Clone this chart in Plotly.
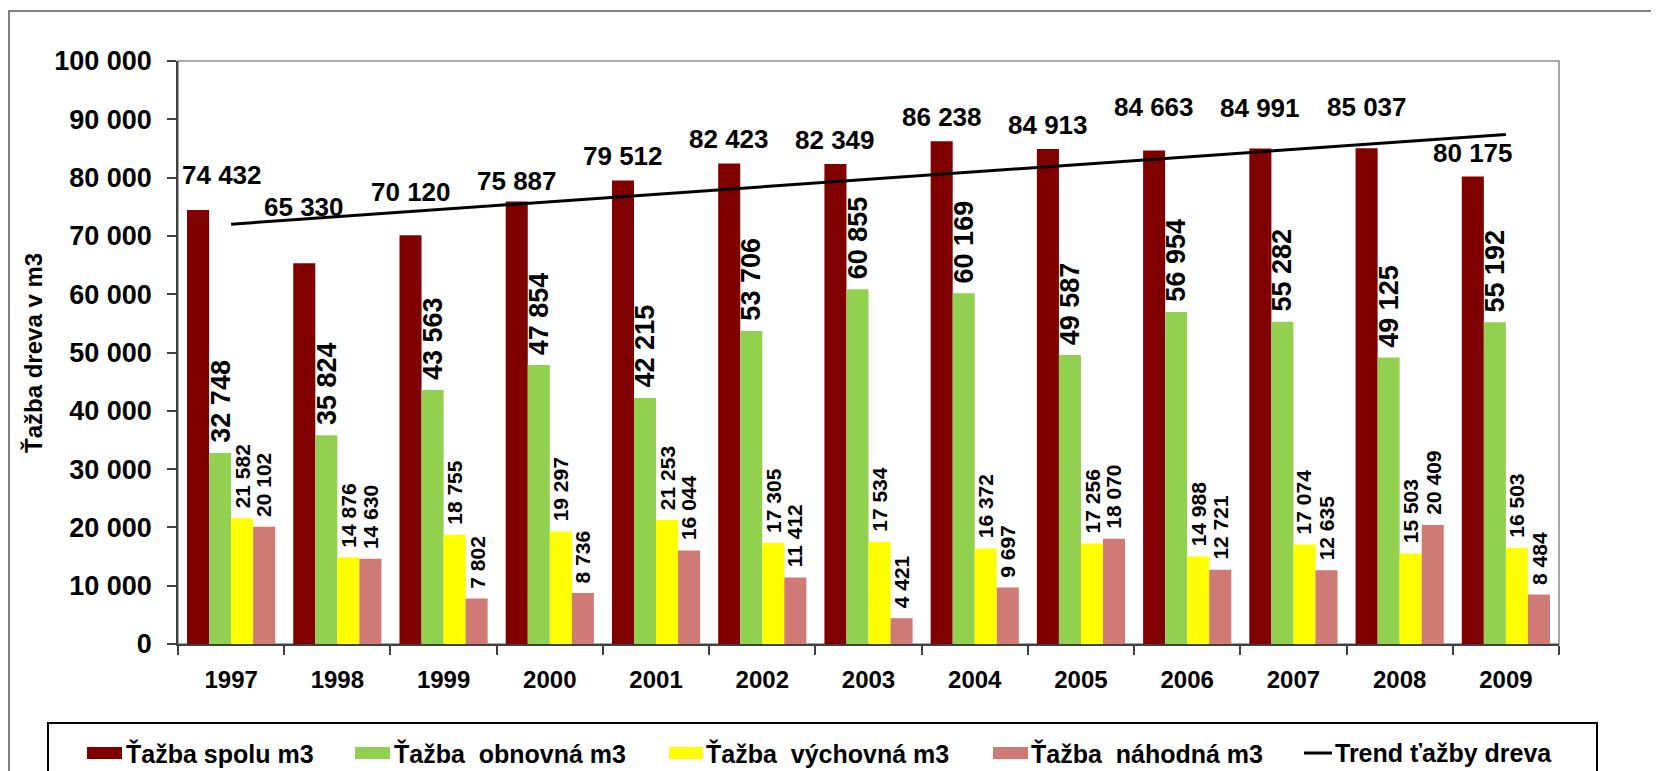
import numpy as np
import plotly.graph_objects as go

# ---- data ----
years = ["1997", "1998", "1999", "2000", "2001", "2002", "2003",
         "2004", "2005", "2006", "2007", "2008", "2009"]
spolu = [74432, 65330, 70120, 75887, 79512, 82423, 82349,
         86238, 84913, 84663, 84991, 85037, 80175]
obnovna = [32748, 35824, 43563, 47854, 42215, 53706, 60855,
           60169, 49587, 56954, 55282, 49125, 55192]
vychovna = [21582, 14876, 18755, 19297, 21253, 17305, 17534,
            16372, 17256, 14988, 17074, 15503, 16503]
nahodna = [20102, 14630, 7802, 8736, 16044, 11412, 4421,
           9697, 18070, 12721, 12635, 20409, 8484]

names = ["Ťažba spolu m3", "Ťažba  obnovná m3", "Ťažba  výchovná m3",
         "Ťažba  náhodná m3", "Trend ťažby dreva"]
y_ticks = [0, 10000, 20000, 30000, 40000, 50000, 60000, 70000, 80000, 90000, 100000]

# ---- style / layout ----
W, H = 1659, 771
OFF = 8                                   # default page (body) margin
L, R, T, B = 178, 1559, 61, 644          # plot area in page px
colors = ["#800000", "#92D050", "#FFFF00", "#D07A76"]
FONT = "Liberation Sans, Arial, sans-serif"
BARGAP = 0.17
# manual placement of the total labels (px above bar top, px shift right)
total_lift = [35, 56, 43, 21, 24, 24, 24, 24, 24, 43, 41, 41, 24]
total_dx = [24, 0, 0, 0, 0, 0, 0, 0, 0, 0, 0, 0, 0]
# legend layout (page px): swatch left, swatch right, text left
legend_items = [(87, 122, 124), (355, 390, 392), (669, 703, 704), (993, 1028, 1029), (1304, 1332, 1333)]
LEG_Y = 753


def px(x):
    return (x - L) / (R - L)


def py(y):
    return (B - y) / (B - T)


def fmt(v):
    return f"{v:,}".replace(",", " ")


def bold(size):
    return dict(family=FONT, size=size, color="black", weight="bold")


fig = go.Figure()
series = [spolu, obnovna, vychovna, nahodna]
for s, c, n in zip(series, colors, names[:4]):
    fig.add_trace(go.Bar(x=years, y=s, name=n, showlegend=False,
                         marker=dict(color=c, line=dict(width=0))))

# linear trend of total harvest (as Excel trendline)
idx = np.arange(len(years))
k, q = np.polyfit(idx, np.array(spolu, dtype=float), 1)
trend = k * idx + q
fig.add_trace(go.Scatter(x=years, y=trend, mode="lines", name=names[4], showlegend=False,
                         line=dict(color="black", width=3)))

annotations = []
w = (1 - BARGAP) / 4
offsets = [-1.5 * w, -0.5 * w, 0.5 * w, 1.5 * w]
for i, v in enumerate(spolu):
    annotations.append(dict(x=i + offsets[0], y=v, xref="x", yref="y", text=fmt(v),
                            showarrow=False, yanchor="middle", xanchor="center",
                            yshift=total_lift[i], xshift=total_dx[i], font=bold(26)))
for s, off, size in [(obnovna, offsets[1], 27), (vychovna, offsets[2], 21), (nahodna, offsets[3], 21)]:
    for i, v in enumerate(s):
        annotations.append(dict(x=i + off, y=v, xref="x", yref="y", text=fmt(v),
                                showarrow=False, textangle=-90, yanchor="bottom",
                                xanchor="center", yshift=8, font=bold(size)))

annotations.append(dict(x=px(33), y=py(353), xref="paper", yref="paper",
                        text="Ťažba dreva v m3", textangle=-90, showarrow=False,
                        xanchor="center", yanchor="middle", font=bold(24)))

shapes = [
    # outer chart border
    dict(type="rect", xref="paper", yref="paper", x0=px(OFF + 1), x1=px(1700), y0=py(11), y1=py(800),
         line=dict(color="#555555", width=1.5), layer="below"),
    # plot area border
    dict(type="rect", xref="paper", yref="paper", x0=0, x1=1, y0=0, y1=1,
         line=dict(color="#8c8c8c", width=1.5), layer="below"),
    # legend box
    dict(type="rect", xref="paper", yref="paper", x0=px(48), x1=px(1597), y0=py(723), y1=py(800),
         line=dict(color="black", width=2), layer="below"),
]

# legend (key) built from swatches and texts
for j, (name, (sx0, sx1, tx)) in enumerate(zip(names, legend_items)):
    if j < 4:
        shapes.append(dict(type="rect", xref="paper", yref="paper",
                           x0=px(sx0), x1=px(sx1), y0=py(LEG_Y + 6), y1=py(LEG_Y - 6),
                           fillcolor=colors[j], line=dict(width=0)))
    else:
        shapes.append(dict(type="line", xref="paper", yref="paper",
                           x0=px(sx0), x1=px(sx1), y0=py(LEG_Y), y1=py(LEG_Y),
                           line=dict(color="black", width=3)))
    annotations.append(dict(x=px(tx), y=py(LEG_Y), xref="paper", yref="paper", text=name,
                            showarrow=False, xanchor="left", yanchor="middle", font=bold(25)))

fig.update_layout(
    width=W - OFF, height=H - OFF,
    margin=dict(l=L - OFF, r=W - R, t=T - OFF, b=H - B, autoexpand=False),
    paper_bgcolor="white", plot_bgcolor="white",
    barmode="group", bargap=BARGAP, bargroupgap=0,
    separators=", ",
    font=dict(family=FONT, color="black"),
    showlegend=False,
    annotations=annotations,
    shapes=shapes,
)
fig.update_xaxes(type="category", showgrid=False, showline=True, linecolor="#404040", linewidth=1.5,
                 ticks="outside", tickson="boundaries", ticklen=9, tickcolor="#404040", tickwidth=1.5,
                 ticklabelstandoff=13, tickfont=bold(24))
fig.update_yaxes(range=[0, 100000], tickvals=y_ticks, tickformat=",d", showgrid=False,
                 showline=True, linecolor="#404040", linewidth=1.5, zeroline=False,
                 ticks="outside", ticklen=9, tickcolor="#404040", tickwidth=1.5,
                 ticklabelstandoff=10, tickfont=bold(27))

fig.write_html("out.html")
